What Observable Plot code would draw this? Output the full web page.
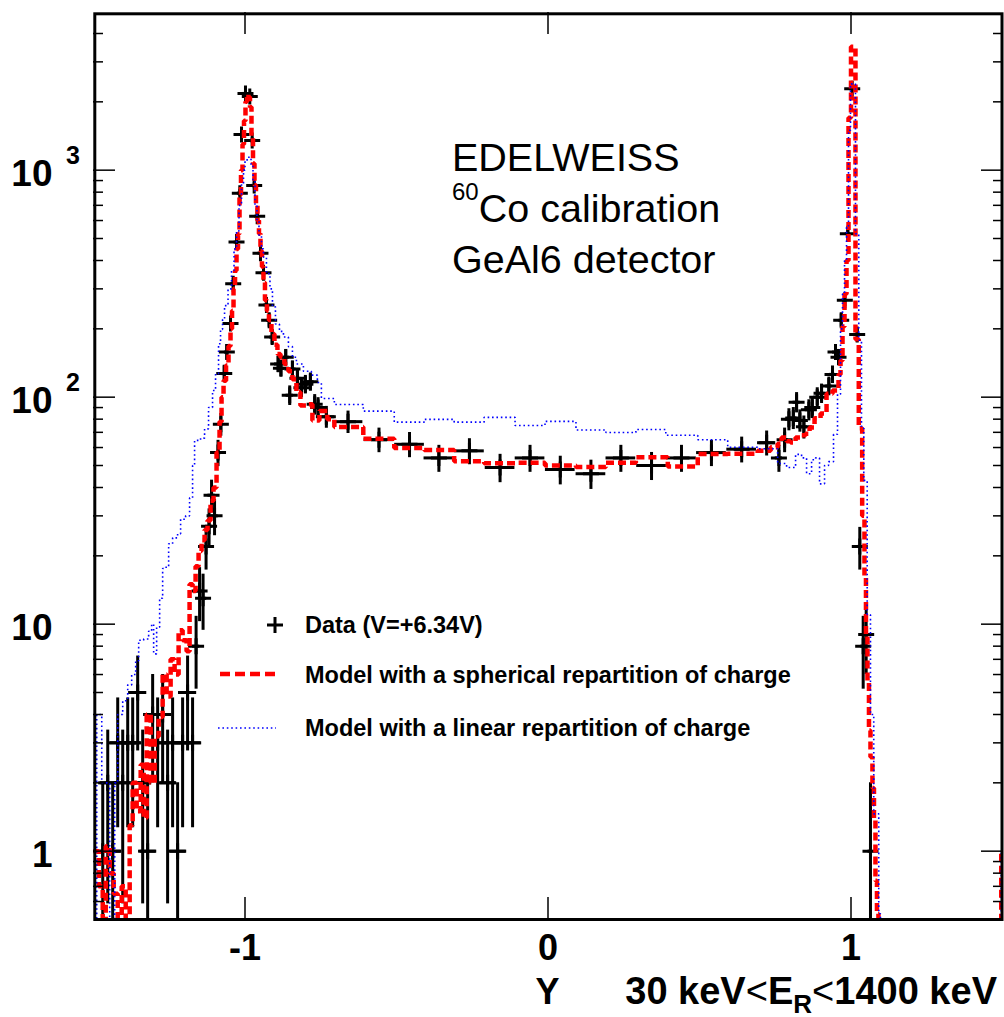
<!DOCTYPE html>
<html>
<head>
<meta charset="utf-8">
<script src="https://cdn.jsdelivr.net/npm/d3@7"></script>
<script src="https://cdn.jsdelivr.net/npm/@observablehq/plot@0.6"></script>
<style>
  html, body { margin: 0; padding: 0; background: #fff; overflow: hidden; }
  #chart svg { display: block; }
</style>
</head>
<body>
<div id="chart"></div>
<script>
// ---- Data: [Y position, counts, half bin width] ----
const measuredData = [
  [-1.4695, 1, 0.03], [-1.4530, 2, 0.03], [-1.4366, 1, 0.03], [-1.4201, 3, 0.03],
  [-1.4036, 2, 0.03], [-1.3871, 3, 0.03], [-1.3707, 3, 0.03], [-1.3542, 5, 0.03],
  [-1.3377, 2, 0.03], [-1.3213, 1, 0.03], [-1.3048, 4, 0.03], [-1.2883, 3, 0.03],
  [-1.2718, 4, 0.03], [-1.2554, 2, 0.03], [-1.2389, 3, 0.03], [-1.2224, 1, 0.03],
  [-1.2059, 3, 0.03], [-1.1895, 5, 0.03], [-1.1730, 3, 0.03],
  [-1.1614, 8, 0.012], [-1.1499, 14, 0.012], [-1.1384, 13, 0.012], [-1.1285, 22, 0.012],
  [-1.1186, 27, 0.012], [-1.1104, 37, 0.012], [-1.1005, 30, 0.012], [-1.0890, 57, 0.012],
  [-1.0797, 76, 0.008], [-1.0685, 127, 0.008], [-1.0600, 158, 0.008], [-1.0478, 211, 0.008],
  [-1.0389, 316, 0.008], [-1.0280, 482, 0.008], [-1.0171, 792, 0.008], [-1.0115, 1436, 0.008],
  [-0.9984, 2178, 0.008], [-0.9842, 2113, 0.008], [-0.9763, 1351, 0.008], [-0.9697, 857, 0.008],
  [-0.9598, 627, 0.008], [-0.9489, 431, 0.008], [-0.9390, 353, 0.008], [-0.9292, 255, 0.008],
  [-0.9203, 218, 0.008], [-0.9104, 184, 0.008],
  [-0.8906, 140, 0.012], [-0.8814, 134, 0.012], [-0.8656, 150, 0.012], [-0.8524, 102, 0.012],
  [-0.8435, 133, 0.012], [-0.8270, 121, 0.012], [-0.8138, 110, 0.012], [-0.8007, 114, 0.012],
  [-0.7842, 117, 0.012], [-0.7700, 93, 0.012], [-0.7588, 90, 0.012], [-0.7315, 82, 0.033],
  [-0.6600, 78, 0.049], [-0.5578, 65, 0.049], [-0.4570, 62, 0.049], [-0.3601, 54, 0.049],
  [-0.2593, 58, 0.049], [-0.1582, 49, 0.049], [-0.0593, 54, 0.049], [0.0405, 48, 0.049],
  [0.1417, 46, 0.049], [0.2405, 54, 0.049], [0.3417, 50, 0.049], [0.4405, 54, 0.049],
  [0.5394, 57, 0.049], [0.6392, 59, 0.049],
  [0.7216, 63, 0.030], [0.7621, 54, 0.012], [0.7809, 65, 0.012], [0.7951, 80, 0.012],
  [0.8096, 81, 0.012], [0.8204, 95, 0.012], [0.8313, 79, 0.012], [0.8445, 74, 0.012],
  [0.8610, 88, 0.012], [0.8722, 90, 0.012], [0.8886, 100, 0.012], [0.9028, 104, 0.012],
  [0.9269, 112, 0.010], [0.9390, 126, 0.010], [0.9489, 158, 0.010], [0.9588, 150, 0.010],
  [0.9677, 218, 0.008], [0.9796, 267, 0.008], [0.9895, 525, 0.008], [1.0040, 2284, 0.008],
  [1.0204, 189, 0.008], [1.0290, 22, 0.008], [1.0402, 8, 0.008], [1.0501, 9, 0.008],
  [1.0643, 1, 0.008]
];

// ---- Model with a spherical repartition of charge: [bin start Y, counts] ----
const sphericalModel = [
  [-1.5, 1.0], [-1.4827, 0.7], [-1.4695, 0.45], [-1.4596, 1.05], [-1.4465, 0.8], [-1.4333, 0.65],
  [-1.4201, 0.4], [-1.4069, 0.7], [-1.3937, 0.45], [-1.3806, 1.3], [-1.3707, 2.0], [-1.3575, 1.5],
  [-1.3443, 2.4], [-1.3344, 1.4], [-1.3245, 4.0], [-1.3114, 2.0], [-1.2982, 3.2], [-1.2850, 3.9],
  [-1.2718, 6.0], [-1.2586, 4.8], [-1.2455, 7.0], [-1.2323, 6.0], [-1.2191, 9.4], [-1.2059, 8.5],
  [-1.1928, 7.6], [-1.1829, 15], [-1.1730, 14], [-1.1631, 18], [-1.1532, 21], [-1.1433, 23.4],
  [-1.1334, 26], [-1.1236, 28.6], [-1.1137, 35], [-1.1038, 40], [-1.0939, 57], [-1.0840, 78],
  [-1.0774, 100], [-1.0708, 118], [-1.0626, 138], [-1.0544, 168], [-1.0478, 200], [-1.0428, 240],
  [-1.0379, 300], [-1.0329, 361], [-1.0280, 450], [-1.0231, 525], [-1.0181, 780], [-1.0132, 1000],
  [-1.0082, 1300], [-1.0033, 1650], [-0.9984, 2000], [-0.9934, 2150], [-0.9885, 2100], [-0.9835, 1900],
  [-0.9786, 1400], [-0.9736, 1070], [-0.9687, 860], [-0.9638, 700], [-0.9588, 600], [-0.9539, 525],
  [-0.9489, 440], [-0.9440, 375], [-0.9390, 320], [-0.9341, 267], [-0.9275, 240], [-0.9209, 218],
  [-0.9127, 190], [-0.9028, 170], [-0.8929, 155], [-0.8830, 150], [-0.8699, 140], [-0.8567, 130],
  [-0.8435, 120], [-0.8303, 105], [-0.8171, 92], [-0.7974, 93], [-0.7776, 79], [-0.7545, 87],
  [-0.7282, 80], [-0.7051, 73.8], [-0.6096, 65.6], [-0.5074, 59.7], [-0.4086, 58.5], [-0.3097, 52.2],
  [-0.2109, 51.2], [-0.1087, 51.4], [-0.0099, 50.0], [0.0923, 49.2], [0.1911, 51.4], [0.2900, 54.4],
  [0.3954, 49.5], [0.4942, 56.2], [0.5931, 56.3], [0.6919, 58], [0.7348, 60.2], [0.7578, 62.3],
  [0.7710, 66.5], [0.7875, 64], [0.8007, 63.2], [0.8171, 66.5], [0.8336, 68], [0.8501, 69],
  [0.8633, 73.6], [0.8797, 80.7], [0.8995, 84.8], [0.9193, 103.5], [0.9390, 107], [0.9588, 126],
  [0.9654, 145], [0.9720, 205], [0.9786, 285], [0.9852, 400], [0.9918, 1700], [1.0000, 3500],
  [1.0148, 180], [1.0257, 73], [1.0369, 30], [1.0445, 16], [1.0494, 9], [1.0544, 5.6],
  [1.0593, 3.4], [1.0643, 2.6], [1.0708, 1.9], [1.0758, 1.4], [1.0807, 0.74], [1.0857, 0.53],
  [1.0906, 0.1], [1.4959, 1.0], [1.5, 1.0]
];

// ---- Model with a linear repartition of charge: [bin start Y, counts] ----
const linearModel = [
  [-1.5, 0.1], [-1.4893, 4.0], [-1.4728, 2.0], [-1.4465, 0.3], [-1.4300, 2.0], [-1.4201, 4.0],
  [-1.4036, 4.6], [-1.3871, 5.4], [-1.3740, 6.0], [-1.3608, 6.9], [-1.3509, 8.5], [-1.3344, 8.6],
  [-1.3180, 9.3], [-1.3081, 10.0], [-1.3015, 7.4], [-1.2916, 9.7], [-1.2817, 13], [-1.2718, 17.6],
  [-1.2619, 17.8], [-1.2520, 22.6], [-1.2389, 24], [-1.2224, 25], [-1.2125, 29], [-1.1960, 30],
  [-1.1829, 36], [-1.1730, 50], [-1.1664, 64.5], [-1.1466, 66], [-1.1334, 72.5], [-1.1203, 90],
  [-1.1071, 107], [-1.0972, 127], [-1.0873, 172], [-1.0807, 199], [-1.0741, 220], [-1.0675, 253],
  [-1.0560, 300], [-1.0445, 361], [-1.0362, 450], [-1.0280, 540], [-1.0198, 700], [-1.0115, 870],
  [-1.0049, 1000], [-1.0000, 1110], [-0.9901, 1140], [-0.9802, 1040], [-0.9736, 900], [-0.9671, 700],
  [-0.9605, 600], [-0.9539, 517], [-0.9456, 450], [-0.9390, 414], [-0.9292, 350], [-0.9176, 300],
  [-0.9094, 250], [-0.8995, 210], [-0.8863, 195], [-0.8731, 184], [-0.8567, 167], [-0.8435, 150],
  [-0.8303, 140], [-0.8072, 130], [-0.7809, 125], [-0.7611, 116], [-0.7479, 98.7], [-0.7051, 92.9],
  [-0.6096, 86.8], [-0.5074, 77.6], [-0.4086, 79.8], [-0.3097, 77.6], [-0.2109, 81.5], [-0.1087, 75.0],
  [-0.0099, 78.2], [0.0923, 71.7], [0.1911, 69.9], [0.2900, 72], [0.3888, 68], [0.4942, 64.9],
  [0.5931, 60.2], [0.6919, 59.3], [0.7578, 51], [0.7875, 49], [0.8171, 56], [0.8369, 54],
  [0.8534, 46], [0.8699, 53], [0.8830, 54], [0.8962, 41.5], [0.9127, 50], [0.9259, 52],
  [0.9423, 68.6], [0.9555, 103], [0.9654, 200], [0.9720, 285], [0.9786, 400], [0.9852, 560],
  [0.9918, 1500], [0.9984, 2400], [1.0148, 525], [1.0257, 178], [1.0346, 73], [1.0422, 43],
  [1.0534, 11], [1.0643, 4], [1.0751, 1.46], [1.0916, 0.53], [1.0972, 0.1], [1.4959, 1.0], [1.5, 1.0]
];

// ---- Axes ----
const xDomain = [-1.5, 1.5];
const yDomain = [0.5, 5000];
const xMajorTicks = [-1, 0, 1];
const xTickLabels = ["-1", "0", "1"];
const yMajorTicks = [1, 10, 100, 1000];
const yBaseLabels = ["1", "10", "10", "10"];
const yExpTicks = [100, 1000];
const yExpLabels = ["2", "3"];
const yMinorTicks = [0.6, 0.7, 0.8, 0.9, 2, 3, 4, 5, 6, 7, 8, 9, 20, 30, 40, 50, 60, 70, 80, 90,
  200, 300, 400, 500, 600, 700, 800, 900, 2000, 3000, 4000];

// ---- Texts ----
const infoLines = ["EDELWEISS", "Co calibration", "GeAl6 detector"];
const infoSup = "60";
const legendLabels = ["Data (V=+6.34V)", "Model with a spherical repartition of charge", "Model with a linear repartition of charge"];

const FONT = "'Liberation Sans', Arial, Helvetica, sans-serif";

const data = measuredData.map(([pos, n, ex]) => ({pos, n, ex}));
const sph = sphericalModel.map(([pos, n]) => ({pos, n}));
const lin = linearModel.map(([pos, n]) => ({pos, n}));

const plusSymbol = {
  draw(ctx, size) {
    const r = Math.sqrt(size / Math.PI);
    ctx.moveTo(-r, 0); ctx.lineTo(r, 0);
    ctx.moveTo(0, -r); ctx.lineTo(0, r);
  }
};

const RED_DASH = "8,4";
const BLUE_DOT = "1.6,2.8";

const chart = Plot.plot({
  width: 1004,
  height: 1017,
  marginLeft: 93,
  marginRight: 2,
  marginTop: 11,
  marginBottom: 98,
  style: {fontFamily: FONT, background: "#fff", color: "#000", overflow: "visible"},
  x: {domain: xDomain},
  y: {type: "log", domain: yDomain},
  marks: [
    // data error bars and markers
    Plot.ruleY(data, {y: "n", x1: d => d.pos - d.ex, x2: d => d.pos + d.ex, stroke: "#000", strokeWidth: 3, clip: true}),
    Plot.ruleX(data, {x: "pos", y1: d => Math.max(d.n - Math.sqrt(d.n), 0.05), y2: d => d.n + Math.sqrt(d.n), stroke: "#000", strokeWidth: 3, clip: true}),
    Plot.dot(data, {x: "pos", y: "n", symbol: plusSymbol, r: 8, stroke: "#000", strokeWidth: 3, fill: "none", clip: true}),
    // models
    Plot.line(sph, {x: "pos", y: "n", curve: "step-after", stroke: "#ff0000", strokeWidth: 4.5,
      strokeDasharray: RED_DASH, strokeLinecap: "butt", strokeLinejoin: "miter", clip: true}),
    Plot.line(lin, {x: "pos", y: "n", curve: "step-after", stroke: "#0000ff", strokeWidth: 1.6,
      strokeDasharray: BLUE_DOT, strokeLinecap: "butt", strokeLinejoin: "miter", clip: true}),
    // frame
    Plot.frame({stroke: "#000", strokeWidth: 3, insetLeft: 1.3, insetTop: 2.3, insetRight: 0.5}),
    // y ticks (inside), left and right
    Plot.axisY({anchor: "left", ticks: yMajorTicks, tickSize: -22, strokeWidth: 1.5, tickFormat: () => "", label: null}),
    Plot.axisY({anchor: "left", ticks: yMinorTicks, tickSize: -10, strokeWidth: 1.5, tickFormat: () => "", label: null}),
    Plot.axisY({anchor: "right", ticks: yMajorTicks, tickSize: -22, strokeWidth: 1.5, tickFormat: () => "", label: null}),
    Plot.axisY({anchor: "right", ticks: yMinorTicks, tickSize: -10, strokeWidth: 1.5, tickFormat: () => "", label: null}),
    // x ticks (inside), bottom and top
    Plot.axisX({anchor: "bottom", ticks: xMajorTicks, tickSize: -22, strokeWidth: 1.5, tickFormat: () => "", label: null}),
    Plot.axisX({anchor: "top", ticks: xMajorTicks, tickSize: -22, strokeWidth: 1.5, tickFormat: () => "", label: null}),
    // labels
    Plot.axisY({anchor: "left", ticks: yMajorTicks, tickSize: 0, tickPadding: 41, dy: 3.7,
      tickFormat: d => yBaseLabels[yMajorTicks.indexOf(d)], fontSize: 37, fontWeight: "bold", label: null}),
    Plot.axisY({anchor: "left", ticks: yExpTicks, tickSize: 0, tickPadding: 27.5, textAnchor: "start", dy: -14,
      tickFormat: d => yExpLabels[yExpTicks.indexOf(d)], fontSize: 25, fontWeight: "bold", label: null}),
    Plot.axisX({anchor: "bottom", ticks: xMajorTicks, tickSize: 0, tickPadding: 15.4,
      tickFormat: d => xTickLabels[xMajorTicks.indexOf(d)], fontSize: 36, fontWeight: "bold", label: null})
  ]
});

document.getElementById("chart").appendChild(chart);

const svg = d3.select(chart);
const xs = chart.scale("x");

// x-axis title
svg.append("text")
  .attr("x", xs.apply(0)).attr("y", 1004)
  .attr("text-anchor", "middle").attr("font-family", FONT).attr("font-weight", "bold").attr("font-size", 36)
  .attr("fill", "#000").text("Y");
const t = svg.append("text")
  .attr("x", 997).attr("y", 1004)
  .attr("text-anchor", "end").attr("font-family", FONT).attr("font-weight", "bold").attr("font-size", 38)
  .attr("fill", "#000");
t.append("tspan").text("30 keV");
t.append("tspan").attr("font-weight", "normal").text("<");
t.append("tspan").text("E");
t.append("tspan").attr("font-size", 26).attr("dy", 9).text("R");
t.append("tspan").attr("dy", -9).attr("font-weight", "normal").text("<");
t.append("tspan").text("1400 keV");

// info text
const info = svg.append("g").attr("font-family", FONT).attr("fill", "#000").attr("text-anchor", "start");
info.append("text").attr("x", 452).attr("y", 170.5).attr("font-size", 39.5).text(infoLines[0]);
const l2 = info.append("text").attr("x", 452).attr("y", 221.7).attr("font-size", 39.5);
l2.append("tspan").attr("font-size", 24).attr("dy", -22).text(infoSup);
l2.append("tspan").attr("dy", 22).text(infoLines[1]);
info.append("text").attr("x", 452).attr("y", 273).attr("font-size", 39.5).text(infoLines[2]);

// legend
const lg = svg.append("g").attr("font-family", FONT).attr("font-weight", "bold").attr("font-size", 23.5)
  .attr("fill", "#000").attr("text-anchor", "start");
lg.append("path").attr("d", "M267,625H283M275,617V633").attr("stroke", "#000").attr("stroke-width", 3).attr("fill", "none");
lg.append("text").attr("x", 305).attr("y", 633).text(legendLabels[0]);
lg.append("line").attr("x1", 220).attr("x2", 276).attr("y1", 674).attr("y2", 674)
  .attr("stroke", "#ff0000").attr("stroke-width", 4.5).attr("stroke-dasharray", "10,5");
lg.append("text").attr("x", 305).attr("y", 683).text(legendLabels[1]);
lg.append("line").attr("x1", 218).attr("x2", 276).attr("y1", 728).attr("y2", 728)
  .attr("stroke", "#0000ff").attr("stroke-width", 1.6).attr("stroke-dasharray", BLUE_DOT);
lg.append("text").attr("x", 305).attr("y", 736).text(legendLabels[2]);
</script>
</body>
</html>
